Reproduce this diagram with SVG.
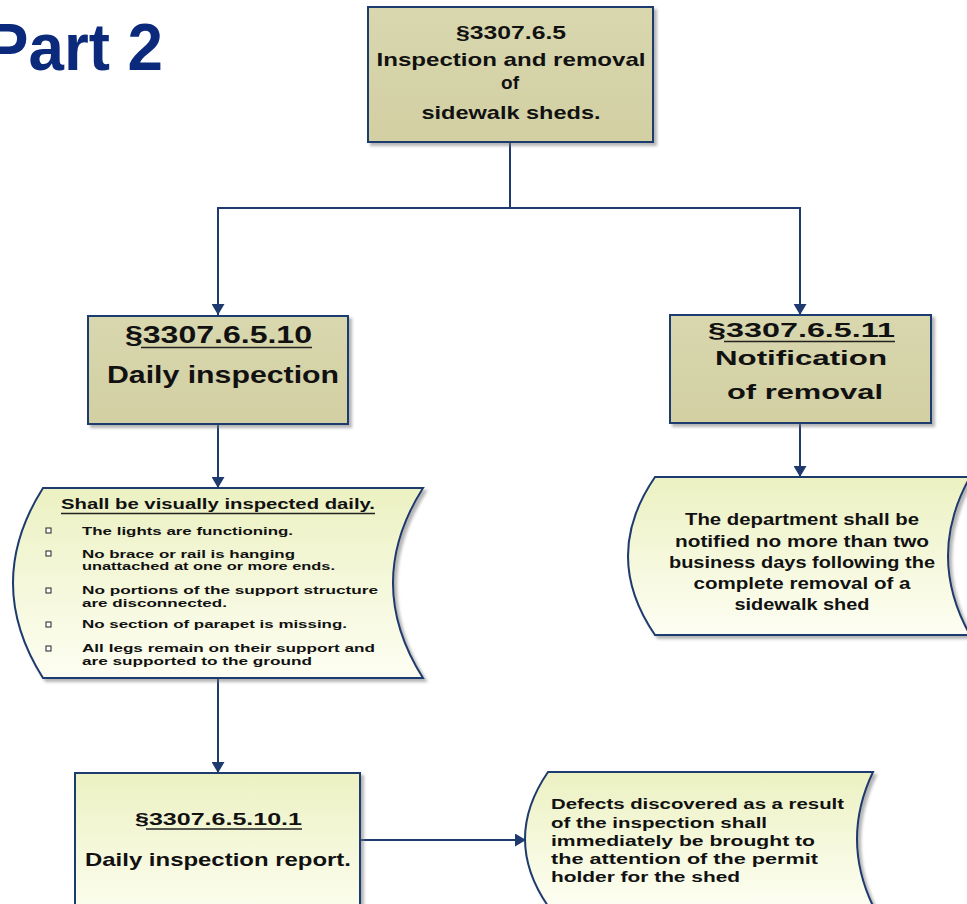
<svg xmlns="http://www.w3.org/2000/svg" width="967" height="904" viewBox="0 0 967 904">
<style>
.t{font-family:"Liberation Sans",Arial,sans-serif;font-weight:bold;fill:#111;}
.box{stroke:#1f3a6e;stroke-width:2;}
.conn{fill:none;stroke:#1f3a6e;stroke-width:2;}
.ul{stroke:#222;stroke-width:1.3;}
.bul{fill:#fff;stroke:#222;stroke-width:1;}
</style>
<defs>
<linearGradient id="khaki" x1="0" y1="0" x2="0" y2="1">
<stop offset="0" stop-color="#d9d7ae"/><stop offset="1" stop-color="#d2cfa3"/>
</linearGradient>
<linearGradient id="cream" x1="0" y1="0" x2="0" y2="1">
<stop offset="0" stop-color="#ecf1c2"/><stop offset="1" stop-color="#fdfef2"/>
</linearGradient>
<filter id="sh" x="-10%" y="-10%" width="130%" height="130%">
<feDropShadow dx="3" dy="3" stdDeviation="1.5" flood-color="#777" flood-opacity="0.55"/>
</filter>
<marker id="arr" markerUnits="userSpaceOnUse" markerWidth="11" markerHeight="13" viewBox="0 0 11 13" refX="11" refY="6.5" orient="auto">
<path d="M0,0 L11,6.5 L0,13 z" fill="#1f3a6e"/>
</marker>
</defs>
<rect width="967" height="904" fill="#fff"/>

<g id="title">
<text class="t" x="-14" y="70" font-size="66" textLength="177" lengthAdjust="spacingAndGlyphs" style="fill:#0b2a7c">Part 2</text>
</g>

<g id="connectors">
<path class="conn" d="M510,142 V208 H218 V315" marker-end="url(#arr)"/>
<path class="conn" d="M510,208 H800 V315" marker-end="url(#arr)"/>
<path class="conn" d="M218,424 V488" marker-end="url(#arr)"/>
<path class="conn" d="M800,423 V477" marker-end="url(#arr)"/>
<path class="conn" d="M218,679 V773" marker-end="url(#arr)"/>
<path class="conn" d="M360,840 H526" marker-end="url(#arr)"/>
</g>

<g id="n_top">
<rect class="box" x="368" y="7" width="285" height="135" fill="url(#khaki)" filter="url(#sh)"/>
<text class="t" x="511" y="39" font-size="18" text-anchor="middle" textLength="110" lengthAdjust="spacingAndGlyphs">§3307.6.5</text>
<text class="t" x="511" y="66" font-size="19" text-anchor="middle" textLength="269" lengthAdjust="spacingAndGlyphs">Inspection and removal</text>
<text class="t" x="510" y="89" font-size="19" text-anchor="middle">of</text>
<text class="t" x="511" y="119" font-size="19" text-anchor="middle" textLength="179" lengthAdjust="spacingAndGlyphs">sidewalk sheds.</text>
</g>

<g id="n_daily">
<rect class="box" x="88" y="316" width="260" height="108" fill="url(#khaki)" filter="url(#sh)"/>
<text class="t" x="125" y="343" font-size="23" textLength="187" lengthAdjust="spacingAndGlyphs">§3307.6.5.10</text>
<line class="ul" x1="141" y1="347.5" x2="312" y2="347.5"/>
<text class="t" x="107" y="383" font-size="24" textLength="232" lengthAdjust="spacingAndGlyphs">Daily inspection</text>
</g>

<g id="n_notif">
<rect class="box" x="670" y="315" width="261" height="108" fill="url(#khaki)" filter="url(#sh)"/>
<text class="t" x="708" y="337" font-size="21" textLength="187" lengthAdjust="spacingAndGlyphs">§3307.6.5.11</text>
<line class="ul" x1="724" y1="341.5" x2="895" y2="341.5"/>
<text class="t" x="715" y="365" font-size="21" textLength="172" lengthAdjust="spacingAndGlyphs">Notification</text>
<text class="t" x="727" y="399" font-size="21" textLength="156" lengthAdjust="spacingAndGlyphs">of removal</text>
</g>

<g id="n_list">
<path class="box" d="M43,488 L423,488 Q363,583 423,678 L43,678 Q-17,583 43,488 Z" fill="url(#cream)" filter="url(#sh)"/>
<text class="t" x="61" y="509" font-size="15" textLength="314" lengthAdjust="spacingAndGlyphs">Shall be visually inspected daily.</text>
<line class="ul" x1="61" y1="513.5" x2="375" y2="513.5"/>
<rect class="bul" x="46" y="528" width="5" height="5"/>
<rect class="bul" x="46" y="551" width="5" height="5"/>
<rect class="bul" x="46" y="588" width="5" height="5"/>
<rect class="bul" x="46" y="622" width="5" height="5"/>
<rect class="bul" x="46" y="646" width="5" height="5"/>
<text class="t" x="82" y="535" font-size="11.5" textLength="211" lengthAdjust="spacingAndGlyphs">The lights are functioning.</text>
<text class="t" x="82" y="557.5" font-size="11" textLength="213" lengthAdjust="spacingAndGlyphs">No brace or rail is hanging</text>
<text class="t" x="82" y="570" font-size="11" textLength="253" lengthAdjust="spacingAndGlyphs">unattached at one or more ends.</text>
<text class="t" x="82" y="594" font-size="11" textLength="296" lengthAdjust="spacingAndGlyphs">No portions of the support structure</text>
<text class="t" x="82" y="606.5" font-size="11" textLength="145" lengthAdjust="spacingAndGlyphs">are disconnected.</text>
<text class="t" x="82" y="628" font-size="11.5" textLength="265" lengthAdjust="spacingAndGlyphs">No section of parapet is missing.</text>
<text class="t" x="82" y="652" font-size="11" textLength="293" lengthAdjust="spacingAndGlyphs">All legs remain on their support and</text>
<text class="t" x="82" y="664.5" font-size="11" textLength="230" lengthAdjust="spacingAndGlyphs">are supported to the ground</text>
</g>

<g id="n_notice">
<path class="box" d="M655,477 L970,477 Q926,556 970,635 L655,635 Q601,556 655,477 Z" fill="url(#cream)" filter="url(#sh)"/>
<text class="t" x="802" y="525" font-size="16" text-anchor="middle" textLength="234" lengthAdjust="spacingAndGlyphs">The department shall be</text>
<text class="t" x="802" y="547" font-size="16" text-anchor="middle" textLength="254" lengthAdjust="spacingAndGlyphs">notified no more than two</text>
<text class="t" x="802" y="568" font-size="16" text-anchor="middle" textLength="266" lengthAdjust="spacingAndGlyphs">business days following the</text>
<text class="t" x="802" y="589" font-size="16" text-anchor="middle" textLength="217" lengthAdjust="spacingAndGlyphs">complete removal of a</text>
<text class="t" x="802" y="610" font-size="16" text-anchor="middle" textLength="135" lengthAdjust="spacingAndGlyphs">sidewalk shed</text>
</g>

<g id="n_report">
<rect class="box" x="75" y="773" width="285" height="150" fill="url(#cream)" filter="url(#sh)"/>
<text class="t" x="135" y="825" font-size="17" textLength="167" lengthAdjust="spacingAndGlyphs">§3307.6.5.10.1</text>
<line class="ul" x1="146" y1="829" x2="302" y2="829"/>
<text class="t" x="85" y="866" font-size="19" textLength="266" lengthAdjust="spacingAndGlyphs">Daily inspection report.</text>
</g>

<g id="n_defects">
<path class="box" d="M548,772 L873,772 Q841,839 873,906 L548,906 Q502,839 548,772 Z" fill="url(#cream)" filter="url(#sh)"/>
<text class="t" x="551" y="809" font-size="14" textLength="293" lengthAdjust="spacingAndGlyphs">Defects discovered as a result</text>
<text class="t" x="551" y="828" font-size="14" textLength="216" lengthAdjust="spacingAndGlyphs">of the inspection shall</text>
<text class="t" x="551" y="846" font-size="14" textLength="264" lengthAdjust="spacingAndGlyphs">immediately be brought to</text>
<text class="t" x="551" y="864" font-size="14" textLength="267" lengthAdjust="spacingAndGlyphs">the attention of the permit</text>
<text class="t" x="551" y="882" font-size="14" textLength="189" lengthAdjust="spacingAndGlyphs">holder for the shed</text>
</g>
</svg>
